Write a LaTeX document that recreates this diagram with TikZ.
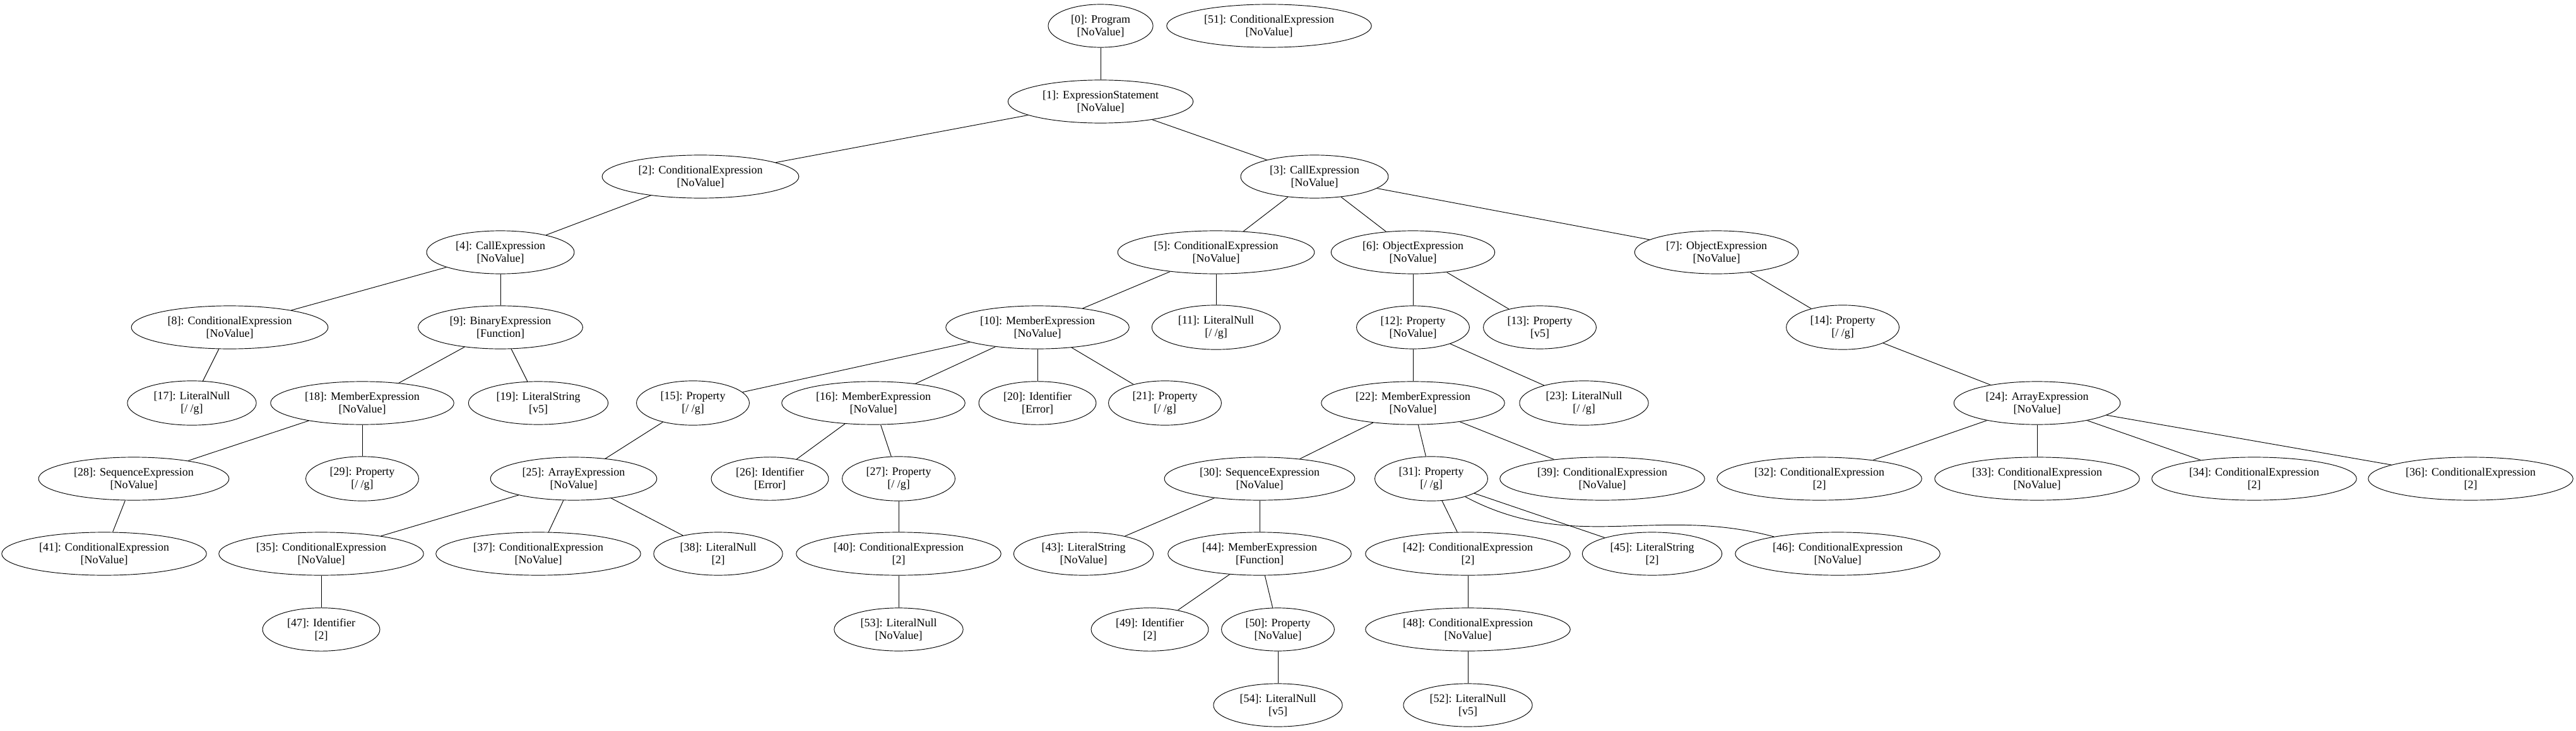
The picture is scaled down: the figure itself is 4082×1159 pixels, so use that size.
\documentclass[tikz,border=0pt]{standalone}
\usepackage{fontspec}
\setmainfont{Liberation Serif}
\usetikzlibrary{shapes.geometric}
\begin{document}
\begin{tikzpicture}[x=0.75pt,y=-0.75pt,line width=0.7pt,
    every node/.style={draw,ellipse,align=center,inner xsep=8.8pt,inner ysep=5pt,
      font=\fontsize{13.5}{15}\selectfont}]
      \useasboundingbox (0,0) rectangle (4082,1159);
      \draw
        (1744,41) node (0){[0]: Program\\{}[NoValue]}
        (2011,41) node (51){[51]: ConditionalExpression\\{}[NoValue]}
        (1744,161) node (1){[1]: ExpressionStatement\\{}[NoValue]}
        (1110,280) node (2){[2]: ConditionalExpression\\{}[NoValue]}
        (2083,280) node (3){[3]: CallExpression\\{}[NoValue]}
        (793,400) node (4){[4]: CallExpression\\{}[NoValue]}
        (1927,400) node (5){[5]: ConditionalExpression\\{}[NoValue]}
        (2239,400) node (6){[6]: ObjectExpression\\{}[NoValue]}
        (2720,400) node (7){[7]: ObjectExpression\\{}[NoValue]}
        (364,519) node (8){[8]: ConditionalExpression\\{}[NoValue]}
        (793,519) node (9){[9]: BinaryExpression\\{}[Function]}
        (1644,519) node (10){[10]: MemberExpression\\{}[NoValue]}
        (1927,519) node (11){[11]: LiteralNull\\{}[/ /g]}
        (2239,519) node (12){[12]: Property\\{}[NoValue]}
        (2440,519) node (13){[13]: Property\\{}[v5]}
        (2920,519) node (14){[14]: Property\\{}[/ /g]}
        (304,639) node (17){[17]: LiteralNull\\{}[/ /g]}
        (574,639) node (18){[18]: MemberExpression\\{}[NoValue]}
        (853,639) node (19){[19]: LiteralString\\{}[v5]}
        (1098,639) node (15){[15]: Property\\{}[/ /g]}
        (1384,639) node (16){[16]: MemberExpression\\{}[NoValue]}
        (1644,639) node (20){[20]: Identifier\\{}[Error]}
        (1846,639) node (21){[21]: Property\\{}[/ /g]}
        (2239,639) node (22){[22]: MemberExpression\\{}[NoValue]}
        (2510,639) node (23){[23]: LiteralNull\\{}[/ /g]}
        (3228,639) node (24){[24]: ArrayExpression\\{}[NoValue]}
        (212,759) node (28){[28]: SequenceExpression\\{}[NoValue]}
        (574,759) node (29){[29]: Property\\{}[/ /g]}
        (909,759) node (25){[25]: ArrayExpression\\{}[NoValue]}
        (1220,759) node (26){[26]: Identifier\\{}[Error]}
        (1424,759) node (27){[27]: Property\\{}[/ /g]}
        (1996,759) node (30){[30]: SequenceExpression\\{}[NoValue]}
        (2268,759) node (31){[31]: Property\\{}[/ /g]}
        (2539,759) node (39){[39]: ConditionalExpression\\{}[NoValue]}
        (2883,759) node (32){[32]: ConditionalExpression\\{}[2]}
        (3228,759) node (33){[33]: ConditionalExpression\\{}[NoValue]}
        (3572,759) node (34){[34]: ConditionalExpression\\{}[2]}
        (3915,759) node (36){[36]: ConditionalExpression\\{}[2]}
        (165,878) node (41){[41]: ConditionalExpression\\{}[NoValue]}
        (509,878) node (35){[35]: ConditionalExpression\\{}[NoValue]}
        (853,878) node (37){[37]: ConditionalExpression\\{}[NoValue]}
        (1138,878) node (38){[38]: LiteralNull\\{}[2]}
        (1424,878) node (40){[40]: ConditionalExpression\\{}[2]}
        (1717,878) node (43){[43]: LiteralString\\{}[NoValue]}
        (1996,878) node (44){[44]: MemberExpression\\{}[Function]}
        (2326,878) node (42){[42]: ConditionalExpression\\{}[2]}
        (2618,878) node (45){[45]: LiteralString\\{}[2]}
        (2912,878) node (46){[46]: ConditionalExpression\\{}[NoValue]}
        (509,998) node (47){[47]: Identifier\\{}[2]}
        (1424,998) node (53){[53]: LiteralNull\\{}[NoValue]}
        (1822,998) node (49){[49]: Identifier\\{}[2]}
        (2025,998) node (50){[50]: Property\\{}[NoValue]}
        (2326,998) node (48){[48]: ConditionalExpression\\{}[NoValue]}
        (2025,1118) node (54){[54]: LiteralNull\\{}[v5]}
        (2326,1118) node (52){[52]: LiteralNull\\{}[v5]};
      \begin{scope}[-]
        \draw (0) to (1);
        \draw (1) to (2);
        \draw (1) to (3);
        \draw (2) to (4);
        \draw (3) to (5);
        \draw (3) to (6);
        \draw (3) to (7);
        \draw (4) to (8);
        \draw (4) to (9);
        \draw (5) to (10);
        \draw (5) to (11);
        \draw (6) to (12);
        \draw (6) to (13);
        \draw (7) to (14);
        \draw (8) to (17);
        \draw (9) to (18);
        \draw (9) to (19);
        \draw (10) to (15);
        \draw (10) to (16);
        \draw (10) to (20);
        \draw (10) to (21);
        \draw (12) to (22);
        \draw (12) to (23);
        \draw (14) to (24);
        \draw (18) to (28);
        \draw (18) to (29);
        \draw (15) to (25);
        \draw (16) to (26);
        \draw (16) to (27);
        \draw (22) to (30);
        \draw (22) to (31);
        \draw (22) to (39);
        \draw (24) to (32);
        \draw (24) to (33);
        \draw (24) to (34);
        \draw (24) to (36);
        \draw (28) to (41);
        \draw (25) to (35);
        \draw (25) to (37);
        \draw (25) to (38);
        \draw (27) to (40);
        \draw (30) to (43);
        \draw (30) to (44);
        \draw (31) to (42);
        \draw (31) to (45);
        \draw (31) to[out=-28,in=165] (46);
        \draw (35) to (47);
        \draw (40) to (53);
        \draw (44) to (49);
        \draw (44) to (50);
        \draw (42) to (48);
        \draw (50) to (54);
        \draw (48) to (52);
      \end{scope}
    \end{tikzpicture}
\end{document}
